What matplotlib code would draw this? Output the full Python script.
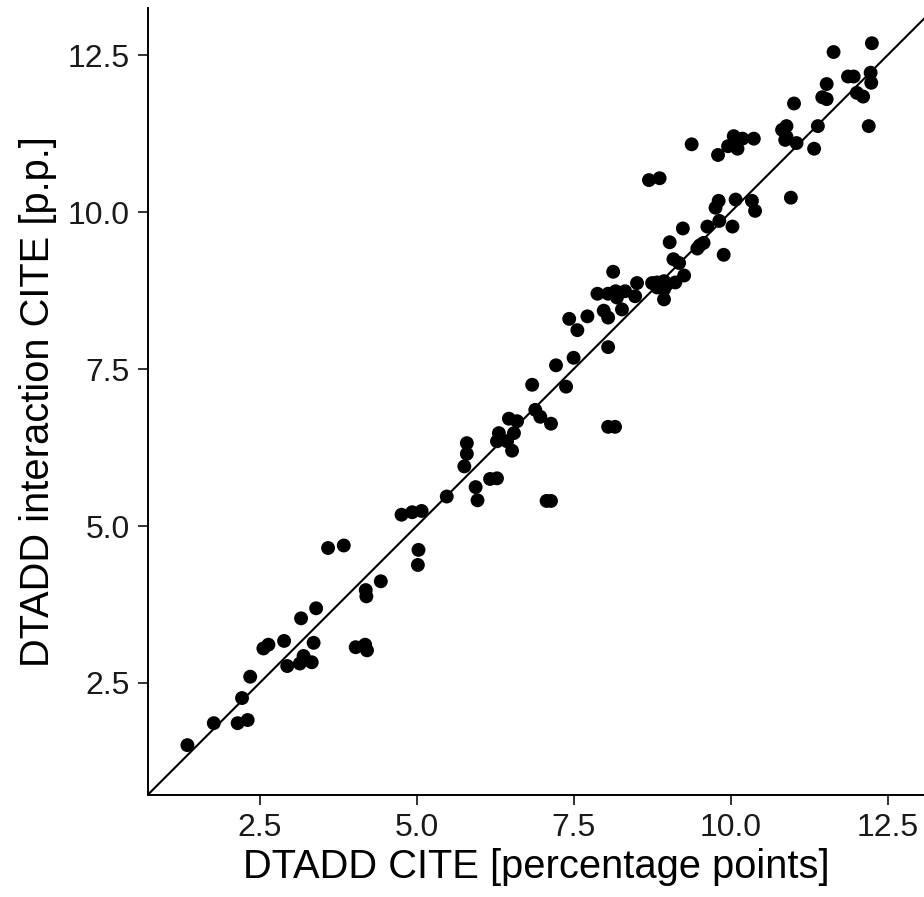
import matplotlib
matplotlib.use("Agg")
import matplotlib.pyplot as plt

# DTADD CITE (x) vs DTADD interaction CITE (y), percentage points
cite = [
    1.35, 1.77, 2.15, 2.31, 2.22, 2.35, 2.56, 2.64, 2.89, 2.94, 3.14, 3.20, 3.33,
    3.36, 3.16, 3.40, 3.59, 3.84, 4.03, 4.18, 4.21, 4.19, 4.20, 4.43, 4.76, 4.93,
    5.08, 5.03, 5.02, 5.48, 5.97, 5.94, 6.17, 6.28, 5.76, 5.80, 5.80, 6.28, 6.44,
    6.52, 6.31, 6.55, 6.47, 6.60, 6.84, 6.89, 6.97, 7.14, 7.38, 7.07, 7.14, 8.05,
    8.16, 7.22, 7.50, 8.05, 7.56, 7.43, 7.72, 7.98, 8.05, 8.27, 7.88, 8.05, 8.17,
    8.19, 8.32, 8.48, 8.51, 8.13, 8.75, 8.83, 8.94, 8.99, 9.12, 8.83, 8.94, 8.94,
    9.26, 9.09, 9.18, 9.03, 9.47, 9.57, 9.51, 9.89, 9.24, 9.63, 9.82, 10.03, 9.76,
    9.81, 10.08, 10.34, 10.39, 10.96, 8.70, 8.87, 9.38, 9.80, 9.96, 10.11, 10.05,
    10.19, 10.37, 10.87, 11.05, 11.33, 10.82, 10.89, 10.89, 11.01, 11.39, 12.20,
    11.46, 11.53, 11.53, 12.01, 12.11, 11.87, 11.96, 12.23, 12.24, 11.64, 12.25,
]
interaction = [
    1.51, 1.86, 1.86, 1.91, 2.26, 2.60, 3.05, 3.11, 3.17, 2.77, 2.81, 2.93, 2.83,
    3.14, 3.53, 3.69, 4.65, 4.69, 3.07, 3.11, 3.02, 3.98, 3.88, 4.12, 5.18, 5.22,
    5.24, 4.62, 4.38, 5.47, 5.41, 5.62, 5.75, 5.76, 5.95, 6.15, 6.32, 6.35, 6.35,
    6.20, 6.48, 6.48, 6.71, 6.67, 7.25, 6.85, 6.74, 6.63, 7.22, 5.40, 5.40, 6.58,
    6.58, 7.56, 7.68, 7.85, 8.12, 8.30, 8.34, 8.43, 8.32, 8.45, 8.70, 8.70, 8.74,
    8.64, 8.74, 8.66, 8.87, 9.05, 8.87, 8.88, 8.90, 8.85, 8.88, 8.80, 8.77, 8.61,
    8.99, 9.25, 9.19, 9.52, 9.42, 9.51, 9.47, 9.32, 9.74, 9.77, 9.86, 9.77, 10.07,
    10.18, 10.20, 10.18, 10.02, 10.23, 10.51, 10.54, 11.08, 10.91, 11.05, 11.01,
    11.21, 11.17, 11.17, 11.15, 11.10, 11.01, 11.31, 11.37, 11.20, 11.73, 11.37,
    11.37, 11.83, 11.80, 12.04, 11.90, 11.84, 12.16, 12.16, 12.22, 12.06, 12.55,
    12.69,
]

xticks = [2.5, 5.0, 7.5, 10.0, 12.5]
yticks = [2.5, 5.0, 7.5, 10.0, 12.5]

plt.rcParams["font.family"] = ["Liberation Sans", "DejaVu Sans"]

fig = plt.figure(figsize=(9.24, 8.97), dpi=100)
ax = fig.add_axes([0.160, 0.114, 0.840, 0.877])

ax.scatter(cite, interaction, s=100, color="black", edgecolors="none", zorder=3)
ax.axline((0, 0), slope=1, color="black", linewidth=1.5, zorder=2)

ax.set_xlim(0.72, 13.08)
ax.set_ylim(0.72, 13.25)
ax.set_xticks(xticks)
ax.set_yticks(yticks)
ax.set_xticklabels([f"{t:.1f}" for t in xticks])
ax.set_yticklabels([f"{t:.1f}" for t in yticks])

for side in ["top", "right"]:
    ax.spines[side].set_visible(False)
for side in ["left", "bottom"]:
    ax.spines[side].set_linewidth(1.4)

ax.tick_params(axis="both", length=7, width=1.4, labelsize=23, pad=6,
               color="#333333", labelcolor="#1a1a1a")

ax.set_xlabel("DTADD CITE [percentage points]", fontsize=28.7, labelpad=4)
ax.set_ylabel("DTADD interaction CITE [p.p.]", fontsize=28.7, labelpad=8)

fig.savefig("out.png", dpi=100)
